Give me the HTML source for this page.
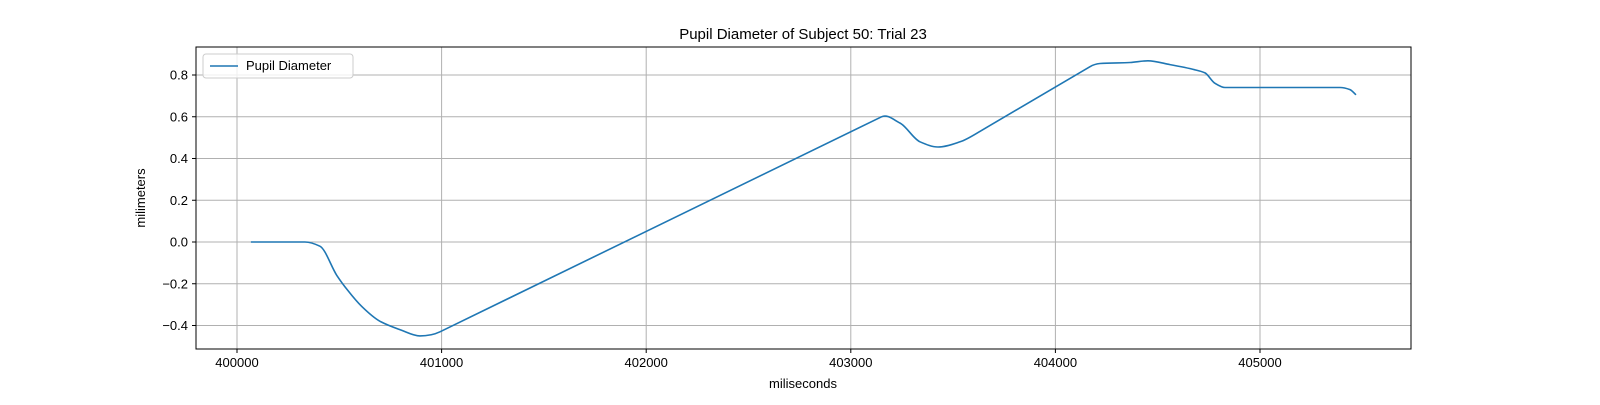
<!DOCTYPE html>
<html><head><meta charset="utf-8"><style>
body{margin:0;background:#fff;}
svg text{font-family:"Liberation Sans","DejaVu Sans",sans-serif;fill:#000;}
</style></head><body>
<svg id="chart" width="1600" height="400" xmlns="http://www.w3.org/2000/svg">
<rect width="1600" height="400" fill="#fff"/>
<g id="grid"></g>
<g id="ticks"></g>
<path id="line" fill="none" stroke="#1f77b4" stroke-width="1.6" stroke-linejoin="round"/>
<rect x="196" y="47" width="1215" height="302" fill="none" stroke="#000" stroke-width="1"/>
<text x="803" y="39" font-size="15" text-anchor="middle">Pupil Diameter of Subject 50: Trial 23</text>
<text x="803" y="388" font-size="13" text-anchor="middle">miliseconds</text>
<text transform="translate(145,198) rotate(-90)" font-size="13" text-anchor="middle">milimeters</text>
<g>
<rect x="203" y="54" width="150" height="24" rx="3" fill="#fff" fill-opacity="0.8" stroke="#ccc"/>
<line x1="210" y1="66" x2="238" y2="66" stroke="#1f77b4" stroke-width="1.6"/>
<text x="246" y="70" font-size="13">Pupil Diameter</text>
</g>
</svg>
<script>
const xs=[400068,400332,400405,400488,400540,400611,400699,400797,400894,400992,403150,403240,403338,403426,403534,403631,404169,404218,404365,404452,404560,404682,404731,404780,404829,405391,405440,405469];
const ys=[0,0,-0.02,-0.16,-0.23,-0.31,-0.38,-0.42,-0.45,-0.43,0.6,0.57,0.48,0.455,0.48,0.53,0.84,0.855,0.86,0.868,0.85,0.825,0.81,0.76,0.74,0.74,0.73,0.705];
const xTicks=[400000,401000,402000,403000,404000,405000];
const yTicks=[-0.4,-0.2,0.0,0.2,0.4,0.6,0.8];
const L=196,R=1411,T=47,B=349;
const sx=v=>237+(v-400000)*0.2046;
const sy=v=>242-v*208.75;
const NS="http://www.w3.org/2000/svg";
const g=document.getElementById('grid'),tk=document.getElementById('ticks');
function mk(tag,at,parent){const e=document.createElementNS(NS,tag);for(const k in at)e.setAttribute(k,at[k]);parent.appendChild(e);return e;}
xTicks.forEach(v=>{const x=sx(v);
const gl=mk('line',{x1:x,x2:x,y1:T,y2:B,stroke:'#b0b0b0','stroke-width':1},g);


mk('line',{x1:x,x2:x,y1:B,y2:B+4,stroke:'#000'},tk);
const t=mk('text',{x:x,y:B+18,'font-size':13,'text-anchor':'middle'},tk);t.textContent=v;

});
yTicks.forEach(v=>{const y=sy(v);
const gl=mk('line',{x1:L,x2:R,y1:y,y2:y,stroke:'#b0b0b0','stroke-width':1},g);


mk('line',{x1:L-4,x2:L,y1:y,y2:y,stroke:'#000'},tk);
const t=mk('text',{x:L-8,y:y+4.5,'font-size':13,'text-anchor':'end'},tk);t.textContent=(v<0?'\u2212':'')+Math.abs(v).toFixed(1);

});
const X=xs.map(sx),Y=ys.map(sy),n=X.length;
const dl=[],h=[],lng=[];
for(let i=0;i<n-1;i++){h[i]=X[i+1]-X[i];dl[i]=(Y[i+1]-Y[i])/h[i];lng[i]=h[i]>100;}
const m=new Array(n);
m[0]=dl[0];m[n-1]=dl[n-2];
for(let i=1;i<n-1;i++){
if(lng[i])m[i]=dl[i];
else if(lng[i-1])m[i]=dl[i-1];
else if(dl[i-1]*dl[i]<=0)m[i]=0;
else{const w1=2*h[i]+h[i-1],w2=h[i]+2*h[i-1];m[i]=(w1+w2)/(w1/dl[i-1]+w2/dl[i]);}}
let d='M'+X[0].toFixed(1)+','+Y[0].toFixed(1);
for(let i=0;i<n-1;i++){
if(lng[i]){d+='L'+X[i+1].toFixed(1)+','+Y[i+1].toFixed(1);continue;}
const hh=h[i]/3;
d+='C'+(X[i]+hh).toFixed(1)+','+(Y[i]+m[i]*hh).toFixed(1)+' '+(X[i+1]-hh).toFixed(1)+','+(Y[i+1]-m[i+1]*hh).toFixed(1)+' '+X[i+1].toFixed(1)+','+Y[i+1].toFixed(1);}
document.getElementById('line').setAttribute('d',d);
</script>
</body></html>
